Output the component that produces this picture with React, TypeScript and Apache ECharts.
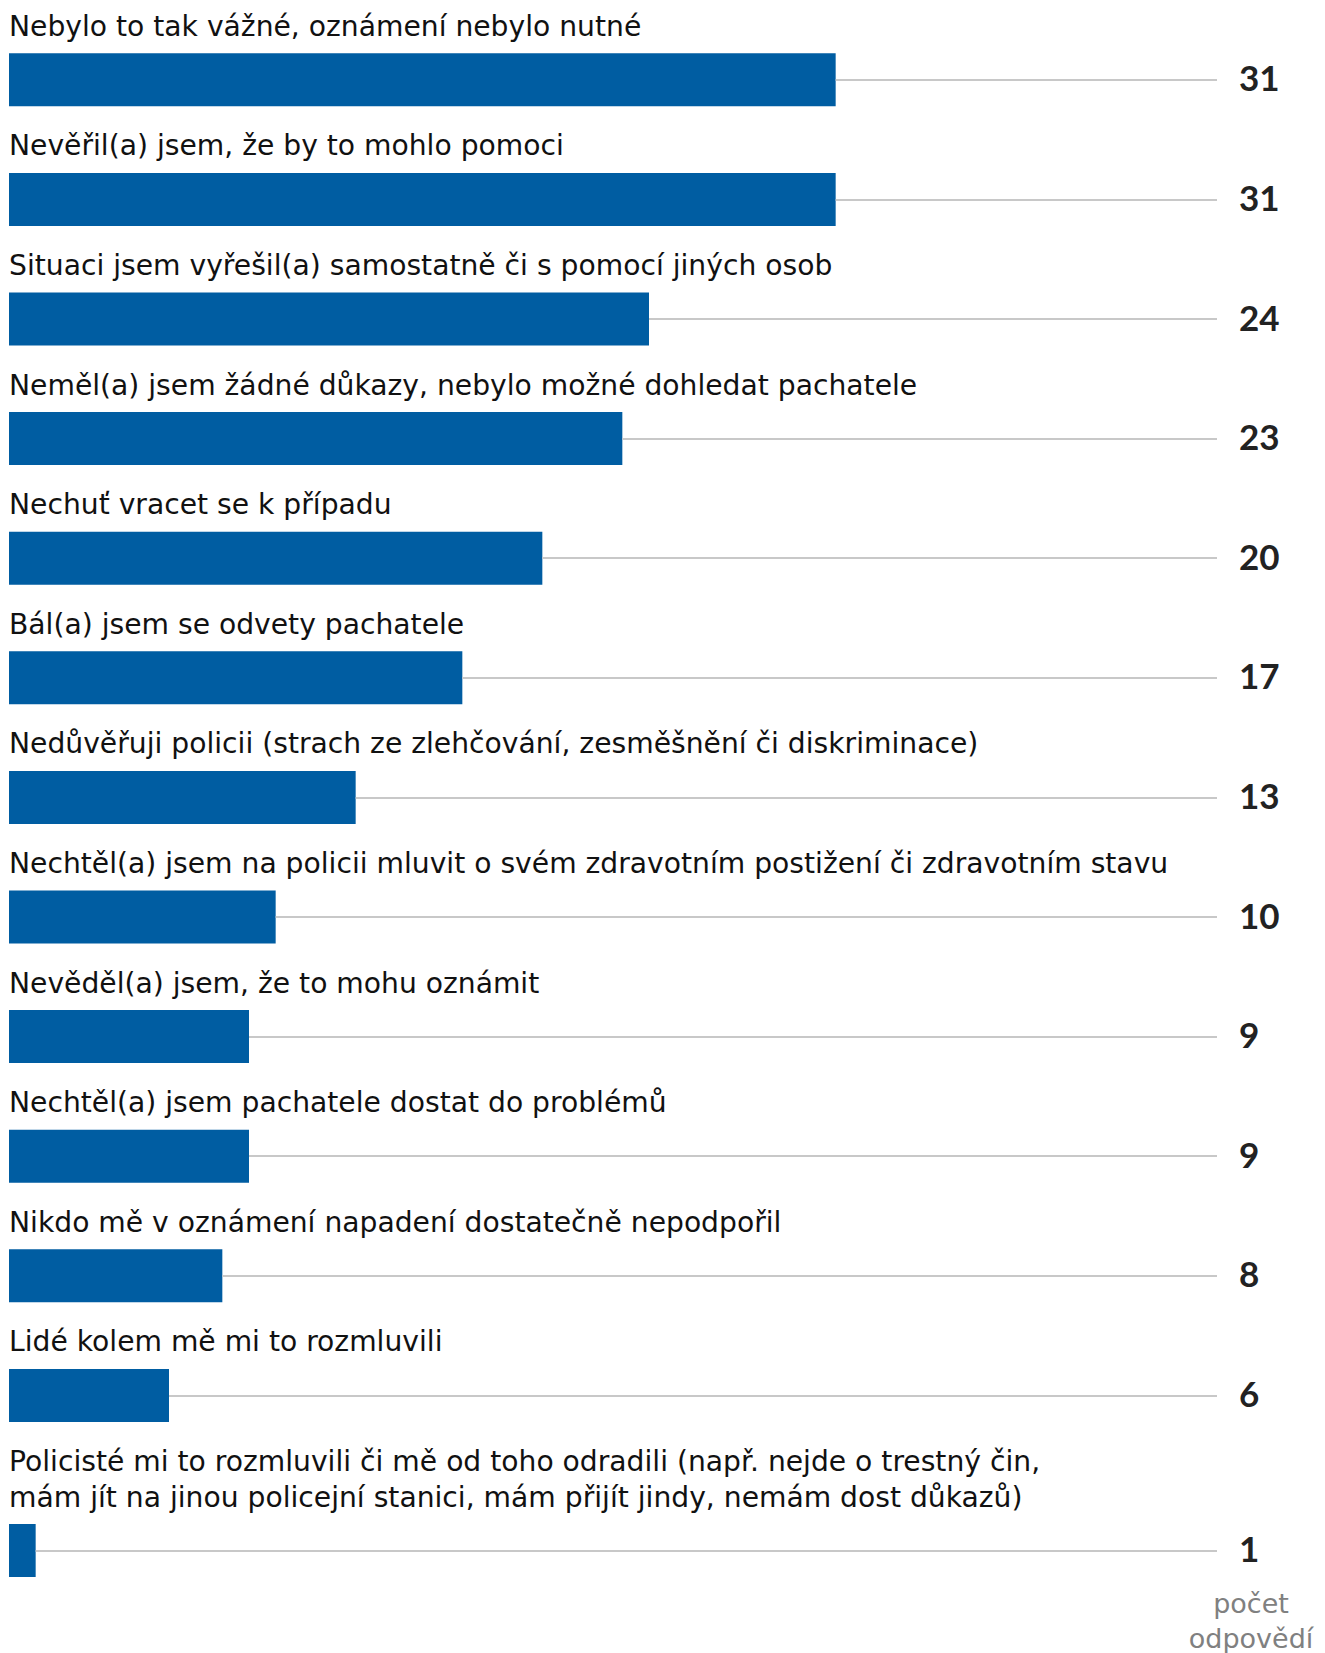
import React, { useEffect, useRef } from "react";
import * as echarts from "echarts";

const categories: string[] = [
  "Nebylo to tak vážné, oznámení nebylo nutné",
  "Nevěřil(a) jsem, že by to mohlo pomoci",
  "Situaci jsem vyřešil(a) samostatně či s pomocí jiných osob",
  "Neměl(a) jsem žádné důkazy, nebylo možné dohledat pachatele",
  "Nechuť vracet se k případu",
  "Bál(a) jsem se odvety pachatele",
  "Nedůvěřuji policii (strach ze zlehčování, zesměšnění či diskriminace)",
  "Nechtěl(a) jsem na policii mluvit o svém zdravotním postižení či zdravotním stavu",
  "Nevěděl(a) jsem, že to mohu oznámit",
  "Nechtěl(a) jsem pachatele dostat do problémů",
  "Nikdo mě v oznámení napadení dostatečně nepodpořil",
  "Lidé kolem mě mi to rozmluvili",
  "Policisté mi to rozmluvili či mě od toho odradili (např. nejde o trestný čin,\nmám jít na jinou policejní stanici, mám přijít jindy, nemám dost důkazů)",
];
const values: number[] = [31, 31, 24, 23, 20, 17, 13, 10, 9, 9, 8, 6, 1];
const axisMax = 45.3;
const unitLabel = "počet\nodpovědí";

const FONT = "'DejaVu Sans', 'Open Sans', sans-serif";
const NUM_FONT = "Lato, 'Open Sans', sans-serif";
const BAR_COLOR = "#005da2";

export default function App() {
  const ref = useRef<HTMLDivElement>(null);
  useEffect(() => {
    document.body.style.margin = "0";
    if (!ref.current) return;
    const chart = echarts.init(ref.current, null, { renderer: "svg" });
    const grids: any[] = [];
    const xAxes: any[] = [];
    const yAxes: any[] = [];
    const series: any[] = [];
    const firstTop = 53.3;
    const pitch = 119.6;
    const barH = 53;
    const lineH = 35.5;
    let extra = 0;
    categories.forEach((cat, i) => {
      const lines = cat.split("\n").length;
      extra += (lines - 1) * lineH;
      const top = firstTop + i * pitch + extra;
      grids.push({ left: 9, width: 1208, top, height: barH, containLabel: false });
      xAxes.push({ gridIndex: i, type: "value", min: 0, max: axisMax, show: false });
      yAxes.push({ gridIndex: i, type: "category", data: [cat], show: false });
      yAxes.push({
        gridIndex: i,
        type: "category",
        position: "right",
        data: [String(values[i])],
        axisLine: { show: false },
        axisTick: { show: false },
        splitLine: { show: false },
        axisLabel: {
          margin: 22,
          fontSize: 35,
          fontWeight: "bold",
          color: "#222",
          fontFamily: NUM_FONT,
          verticalAlign: "bottom",
          lineHeight: 5,
        },
      });
      series.push({
        type: "bar",
        xAxisIndex: i,
        yAxisIndex: i * 2,
        data: [values[i]],
        barWidth: barH,
        itemStyle: { color: BAR_COLOR },
        label: {
          show: true,
          position: [0, -9],
          align: "left",
          verticalAlign: "bottom",
          formatter: () => cat,
          fontSize: 28.2,
          lineHeight: 36,
          color: "#111",
          fontFamily: FONT,
        },
        markLine: {
          silent: true,
          symbol: ["none", "none"],
          label: { show: false },
          animation: false,
          lineStyle: { color: "#c8c8c8", width: 2, type: "solid" },
          data: [[{ coord: [values[i], cat] }, { coord: [axisMax, cat] }]],
        },
      });
    });
    chart.setOption({
      animation: false,
      backgroundColor: "#fff",
      grid: grids,
      xAxis: xAxes,
      yAxis: yAxes,
      series,
      graphic: [
        {
          type: "text",
          x: 1251,
          y: 1621,
          style: {
            text: unitLabel,
            fill: "#808080",
            font: `27px ${FONT}`,
            align: "center",
            verticalAlign: "middle",
            lineHeight: 35,
          },
        },
      ],
    });
    return () => chart.dispose();
  }, []);
  return <div ref={ref} style={{ width: 1325, height: 1653 }} />;
}
